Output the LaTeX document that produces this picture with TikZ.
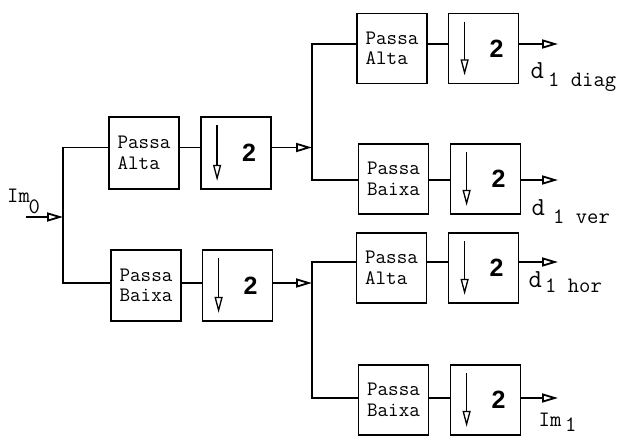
\documentclass[tikz,border=0pt]{standalone}
\usepackage{fontspec}
\setmainfont{Liberation Sans}
\setsansfont{Liberation Sans}
\usetikzlibrary{arrows.meta}

\begin{document}
\begin{tikzpicture}[x=1pt,y=-1pt,
  filtbox/.style={draw, line width=1.8pt, minimum width=70pt, minimum height=70pt, inner sep=0pt, align=left, font=\fontsize{20.5}{20.5}\selectfont\ttfamily},
  dsbox/.style={draw, line width=1.8pt, minimum width=70pt, minimum height=70pt, inner sep=0pt},
  two/.style={font=\fontsize{25}{25}\selectfont\sffamily\bfseries, inner sep=0pt},
  wire/.style={line width=1.8pt},
  outarrow/.style={line width=1.8pt, -{Triangle[open, length=16pt, width=9pt]}},
  dsarrow/.style={line width=1.3pt, -{Triangle[open, length=16pt, width=8pt]}},
  lbl/.style={font=\fontsize{22}{22}\selectfont\ttfamily, inner sep=0pt, anchor=base west},
  biglbl/.style={font=\fontsize{26}{26}\selectfont\ttfamily, inner sep=0pt, anchor=base west},
]
\useasboundingbox (0,0) rectangle (618,436);

% boxes
\node[filtbox, minimum height=72pt] (pa1) at (144,153) {Passa\\Alta};
\node[dsbox, minimum height=72pt] (ds1) at (236,153) {};
\node[filtbox, minimum height=71pt] (pb1) at (146,285.5) {Passa\\Baixa};
\node[dsbox, minimum height=71pt] (ds2) at (237.5,285.5) {};
\node[filtbox] (pa2) at (392,48.5) {Passa\\Alta};
\node[dsbox] (ds3) at (483.5,48.5) {};
\node[filtbox] (pb2) at (393.5,179) {Passa\\Baixa};
\node[dsbox] (ds4) at (485.5,179) {};
\node[filtbox] (pa3) at (391.5,268) {Passa\\Alta};
\node[dsbox] (ds5) at (483.5,268) {};
\node[filtbox] (pb3) at (393.5,400) {Passa\\Baixa};
\node[dsbox] (ds6) at (485.5,400) {};

% downsampler contents
\foreach \b in {ds1,ds2,ds3,ds4,ds5,ds6} {
  \draw[dsarrow] ([xshift=17pt,yshift=-9pt]\b.north west) -- ([xshift=17pt,yshift=9pt]\b.south west);
  \node[two] (\b-two) at ([xshift=13pt]\b.center) {2};
}

% levels
\coordinate (r1) at (0,147.5);
\coordinate (r2) at (0,283);
\coordinate (r3) at (0,44);
\coordinate (r4) at (0,180);
\coordinate (r5) at (0,262);
\coordinate (r6) at (0,398);

\coordinate (in0) at (26,217);
\coordinate (s0) at (63,217);
\coordinate (s1) at (312,147.5);
\coordinate (s2) at (312,283);
\coordinate (o3) at (558,44);
\coordinate (o4) at (558,180);
\coordinate (o5) at (558,262);
\coordinate (o6) at (558,398);

% input and first split
\draw[outarrow] (in0) -- (s0);
\draw[wire] (pa1.west |- r1) -| (s0) |- (pb1.west |- r2);
\draw[wire] (pa1.east |- r1) -- (ds1.west |- r1);
\draw[wire] (pb1.east |- r2) -- (ds2.west |- r2);
\draw[outarrow] (ds1.east |- r1) -- (s1);
\draw[outarrow] (ds2.east |- r2) -- (s2);

% second splits
\draw[wire] (pa2.west |- r3) -| (s1) |- (pb2.west |- r4);
\draw[wire] (pa3.west |- r5) -| (s2) |- (pb3.west |- r6);
\draw[wire] (pa2.east |- r3) -- (ds3.west |- r3);
\draw[wire] (pb2.east |- r4) -- (ds4.west |- r4);
\draw[wire] (pa3.east |- r5) -- (ds5.west |- r5);
\draw[wire] (pb3.east |- r6) -- (ds6.west |- r6);
\draw[outarrow] (ds3.east |- r3) -- (o3);
\draw[outarrow] (ds4.east |- r4) -- (o4);
\draw[outarrow] (ds5.east |- r5) -- (o5);
\draw[outarrow] (ds6.east |- r6) -- (o6);

% labels
\node[lbl] (im0) at (7,202) {Im};
\node[lbl] (im0s) at (28.5,213) {0};
\node[biglbl] (ld3) at (530.5,78) {d};
\node[lbl] (ls3) at (548,86) {1 diag};
\node[biglbl] (ld4) at (531.5,215) {d};
\node[lbl] (ls4) at (553,223) {1 ver};
\node[biglbl] (ld5) at (528.5,287) {d};
\node[lbl] (ls5) at (545,292) {1 hor};
\node[lbl] (im1) at (538.5,426) {Im};
\node[lbl] (im1s) at (565,431) {1};
\end{tikzpicture}
\end{document}
